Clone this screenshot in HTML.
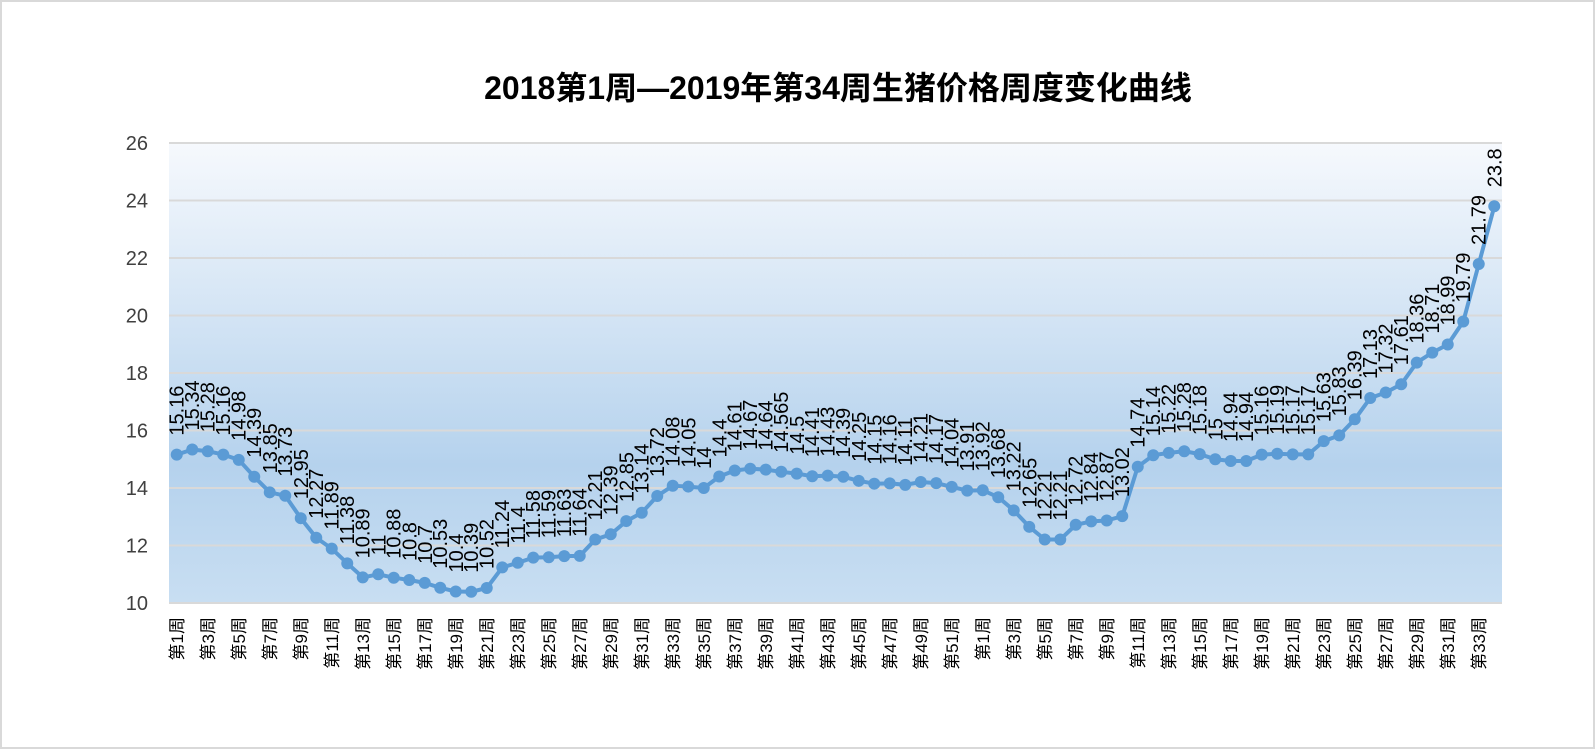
<!DOCTYPE html>
<html><head><meta charset="utf-8"><style>
html,body{margin:0;padding:0;background:#fff;}
svg{display:block;font-family:"Liberation Sans","Noto Sans CJK SC",sans-serif;}
</style></head><body>
<svg id="chart" width="1596" height="750" viewBox="0 0 1596 750" xmlns="http://www.w3.org/2000/svg">
<defs><linearGradient id="bg" x1="0" y1="0" x2="0" y2="1">
<stop offset="0" stop-color="#f6f9fd"/><stop offset="0.7" stop-color="#b5d2ed"/><stop offset="1" stop-color="#c8def2"/></linearGradient></defs>
<rect x="1" y="1" width="1593" height="747" fill="#fff" stroke="#d9d9d9" stroke-width="2"/>
<text x="838" y="99" text-anchor="middle" font-size="32" font-weight="bold" fill="#000">2018第1周—2019年第34周生猪价格周度变化曲线</text>
<rect x="169" y="143" width="1333" height="460" fill="url(#bg)"/>
<g id="grid"></g><g id="ylab"></g><g id="xlab"></g><g id="series"></g><g id="vals"></g>
</svg>
<script>
const cats2018 = Array.from({length:52},(_,i)=>'第'+(i+1)+'周');
const cats2019 = Array.from({length:34},(_,i)=>'第'+(i+1)+'周');
const categories = cats2018.concat(cats2019);
const prices2018 = [15.16,15.34,15.28,15.16,14.98,14.39,13.85,13.73,12.95,12.27,11.89,11.38,10.89,11,10.88,10.80,10.7,10.53,10.4,10.39,10.52,11.24,11.4,11.58,11.59,11.63,11.64,12.21,12.39,12.85,13.14,13.72,14.08,14.05,14,14.4,14.61,14.67,14.64,14.565,14.5,14.41,14.43,14.39,14.25,14.15,14.16,14.11,14.21,14.17,14.04,13.91];
const prices2019 = [13.92,13.68,13.22,12.65,12.21,12.21,12.72,12.84,12.87,13.02,14.74,15.14,15.22,15.28,15.18,15,14.94,14.94,15.16,15.19,15.17,15.17,15.63,15.83,16.39,17.13,17.32,17.61,18.36,18.71,18.99,19.79,21.79,23.8];
const prices = prices2018.concat(prices2019);
const yTicks = [10,12,14,16,18,20,22,24,26];
const NS='http://www.w3.org/2000/svg';
const L=169,R=1502,T=143,B=603,yMin=10,yMax=26;
const step=(R-L)/categories.length;
const xs=i=>L+step*(i+0.5);
const ys=v=>B-(v-yMin)/(yMax-yMin)*(B-T);
function mk(tag,attrs,parent,txt){const e=document.createElementNS(NS,tag);for(const k in attrs)e.setAttribute(k,attrs[k]);if(txt!==undefined)e.textContent=txt;parent.appendChild(e);return e;}
const grid=document.getElementById('grid'),ylab=document.getElementById('ylab'),xlab=document.getElementById('xlab'),series=document.getElementById('series'),vals=document.getElementById('vals');
yTicks.forEach(t=>{
  const l=mk('line',{x1:L,x2:R,y1:ys(t),y2:ys(t),stroke:'#d9d9d9','stroke-width':2},grid);
  
  
  const tx=mk('text',{x:148,y:ys(t)+7,'text-anchor':'end','font-size':20,fill:'#404040'},ylab,String(t));
  
  
});
categories.forEach((c,i)=>{
  if(i%2!==0)return;
  const x=xs(i)+6,y=617;
  const tx=mk('text',{x:x,y:y,'text-anchor':'end','font-size':17,fill:'#000',transform:`rotate(-90 ${x} ${y})`},xlab,c);
  
  
});
const pts=prices.map((v,i)=>xs(i).toFixed(1)+','+ys(v).toFixed(1)).join(' ');
const line=mk('polyline',{points:pts,fill:'none',stroke:'#5b9bd5','stroke-width':4,'stroke-linejoin':'round'},series);


prices.forEach((v,i)=>{
  const c=mk('circle',{cx:xs(i),cy:ys(v),r:6,fill:'#5b9bd5'},series);
  
  
  const x=xs(i)+7,y=ys(v)-19;
  const tx=mk('text',{x:x,y:y,'font-size':20,fill:'#000',transform:`rotate(-90 ${x} ${y})`},vals,String(v));
  
  
});
</script>
</body></html>
